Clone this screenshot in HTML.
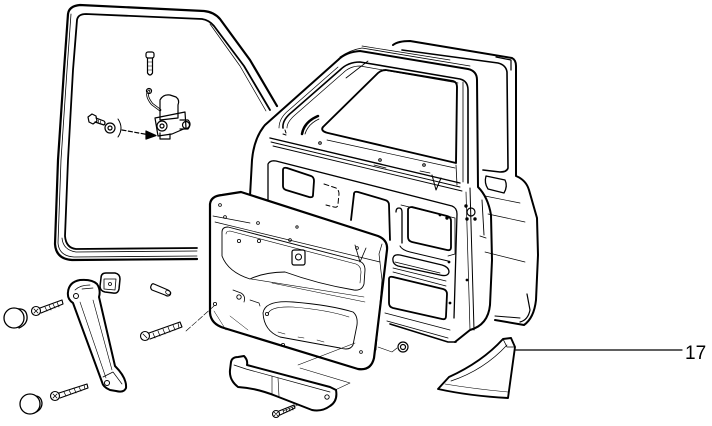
<!DOCTYPE html>
<html><head><meta charset="utf-8"><style>
html,body{margin:0;padding:0;background:#fff;}
svg{display:block;}
text{font-family:"Liberation Sans",sans-serif;}
</style></head><body>
<svg width="712" height="426" viewBox="0 0 712 426" xmlns="http://www.w3.org/2000/svg" fill="none" stroke="#000" stroke-linecap="round" stroke-linejoin="round">

<!-- Window seal -->
<g>
<path d="M197,259 L72,260 Q56,259 55,244 L58,160 L64,70 L68,14 Q69,6 80,5 L204,11 Q214,12 220,19 L250,60 L277,106" stroke-width="2.2"/>
<path d="M197,256 L74,257 Q59,256 58,243 L61,160 L67,70 L71,14" stroke-width="0.8"/>
<path d="M197,248 L76,249 Q66,248 65,236 L68,160 L73,70 L77,20 Q78,14 86,14 L202,19 Q209,20 214,26 L244,66 L270,110" stroke-width="1.8"/>
<path d="M197,251 L76,252 Q63,250 62,238" stroke-width="0.8"/>
<path d="M210,24 L240,66 L266,111" stroke-width="0.7"/>
</g>

<!-- Top-left hardware -->
<g stroke-width="1.2">
<rect x="146" y="52" width="8" height="6" rx="2"/>
<path d="M147.5,58 L147.5,73 Q150,77 152.5,73 L152.5,58"/>
<path d="M148,62 L152,62 M148,66 L152,66 M148,70 L152,70" stroke-width="0.6"/>
<path d="M149,91 Q145,95 152,104 L160,110" stroke-width="2.6"/>
<path d="M149,91 Q145,95 152,104 L160,110" stroke-width="1" stroke="#fff"/>
<circle cx="149" cy="91" r="2.5"/>
<path d="M160,100 L160,120 M160,100 Q163,94 170,95 L176,97 Q180,100 178,105 L178,118 M160,120 L178,118" />
<path d="M155,118 L185,112 L186,128 L172,134 L158,136 Z"/>
<circle cx="162" cy="126" r="5"/>
<circle cx="162" cy="126" r="2"/>
<path d="M180,120 L188,120 Q192,124 188,129 L180,129" />
<circle cx="186" cy="125" r="3.5"/>
<path d="M160,133 L160,139 L170,139 L170,134" />
<!-- hex bolt -->
<path d="M88,117 L92,114 L96,116 L97,121 L93,124 L89,122 Z"/>
<path d="M96,118 L104,121 Q106,123 104,125 L95,122"/>
<path d="M99,119 L98,123 M101,120 L100,124" stroke-width="0.6"/>
<circle cx="110" cy="128" r="5"/>
<circle cx="110" cy="128" r="2"/>
<path d="M118,119 Q124,128 118,137" stroke-width="1"/>
<path d="M122,130 L150,135" stroke-dasharray="4,2.5"/>
<path d="M146,131 L156,135.5 L146,139 Z" fill="#000"/>
</g>

<!-- Rear frame (behind) -->
<g>
<path d="M393,45 Q398,41 410,41 L512,58 Q516,60 516,66 L516,176 Q526,180 529,190 L537,218 L538,255 L536,300 Q534,318 524,325 L495,320" stroke-width="2"/>
<path d="M402,50 L498,63 Q506,65 507,72 L508,168 Q507,172 500,172 L483,170" stroke-width="1.6"/>
<path d="M496,57 L511,60 L511,70" stroke-width="1.2"/>
<path d="M486,176 L505,180 Q508,186 504,193 L488,189 Q484,183 486,176 Z" stroke-width="1.3"/>
<path d="M485,196 L520,203 M488,214 L525,222 M485,252 L525,262" stroke-width="0.7"/>
<path d="M527,294 L530,310 Q528,320 520,322" stroke-width="1.2"/>
<path d="M495,316 L520,318" stroke-width="1"/>
</g>

<!-- Door main -->
<g>
<path d="M250,196 L252,160 Q254,138 265,125 L338,60 Q346,52 360,51 L468,69 Q477,71 477,80 L478,187 Q488,197 491,215 L492,260 L490,305 Q488,325 470,330 L455,342" stroke-width="2"/>
<path d="M340,57 Q350,50 362,48 L470,66" stroke-width="0.8"/>
<path d="M362,46 L450,60" stroke-width="0.7"/>
<path d="M283,128 Q282,120 292,112 L340,70 Q348,62 360,62 L460,79 Q468,81 468,90 L468,183" stroke-width="1.6"/>
<path d="M287,128 Q287,122 295,115 L343,73 Q350,66 360,66 L458,83" stroke-width="0.7"/>
<path d="M279,128 Q279,118 289,110 L338,67" stroke-width="0.7"/>
<path d="M323,127 L378,73 Q381,70 386,70 L453,81 Q457,82 457,87 L456,163 L328,133 Q320,131 323,127 Z" stroke-width="1.9"/>
<path d="M302,134 Q304,122 318,116" stroke-width="2.5"/>
<path d="M305,134 Q308,124 319,119" stroke-width="0.8"/>
<path d="M346,78 L368,61" stroke-width="0.8"/>
<path d="M327,140 L455,168" stroke-width="0.7"/>
<path d="M270,138 L460,183" stroke-width="1.4"/>
<path d="M271,142 L460,187" stroke-width="0.9"/>
<path d="M273,146 L462,191" stroke-width="0.9"/>
<path d="M456,165 L457,185" stroke-width="0.8"/>
<path d="M463,82 L463,182" stroke-width="0.8"/>
<path d="M470,188 L474,330" stroke-width="1"/>
<path d="M466,192 L470,330" stroke-width="0.7"/>
<path d="M482,200 L484,235 M480,236 L486,238" stroke-width="0.9"/>
<path d="M268,200 L268,164 Q270,160 276,161 L452,206 Q457,208 457,214 L454,318" stroke-width="1.3"/>
<path d="M283,134 L286,135 M285,130 L286,133" stroke-width="1"/>
<circle cx="320" cy="143" r="1.3"/>
<circle cx="380" cy="160" r="1.3"/>
<circle cx="424" cy="165" r="1.3"/>
<path d="M314,149 L326,151 M374,165 L386,168 M420,171 L430,173" stroke-width="0.7"/>
<path d="M432,175 L436,190 L441,178" stroke-width="1"/>
<path d="M283,170 Q283,167 287,168 L311,176 Q314,177 314,181 L313,195 Q313,198 309,197 L286,190 Q283,189 283,186 Z" stroke-width="1.8"/>
<path d="M324,184 L336,188 Q339,190 339,194 L338,204 Q338,208 334,207 L326,205" stroke-width="1" stroke-dasharray="5,3"/>
<path d="M354,194 Q354,191 358,192 L385,200 Q389,201 389,205 L390,240" stroke-width="1.8"/>
<path d="M354,194 L351,220" stroke-width="1.8"/>
<path d="M408,210 Q408,207 412,207 L447,216 Q451,217 451,221 L451,247 Q451,251 447,250 L412,242 Q408,241 408,237 Z" stroke-width="1.8"/>
<path d="M401,205 L455,218 L455,254 L448,256" stroke-width="0.8"/>
<path d="M396,212 Q396,208 399,208 Q402,208 402,212 L402,243" stroke-width="1.3"/>
<path d="M400,246 Q402,250 410,252 L448,261" stroke-width="1"/>
<path d="M393,258 Q394,254 400,255 L442,265 Q449,267 449,272 Q448,277 440,275 L398,266 Q392,264 393,258 Z" stroke-width="1.3"/>
<path d="M395,262 L440,273 M393,268 L446,281 M393,272 L446,286" stroke-width="0.8"/>
<path d="M389,279 Q389,276 393,277 L443,289 Q447,290 447,294 L446,316 Q446,320 442,319 L393,308 Q389,307 389,303 Z" stroke-width="1.8"/>
<path d="M385,313 L450,330 M387,321 L448,338" stroke-width="0.9"/>
<path d="M390,324 L448,342 L456,342" stroke-width="1.6"/>
<circle cx="471" cy="212" r="4" stroke-width="1.2"/>
<circle cx="466" cy="206" r="1.2" fill="#000"/>
<circle cx="467" cy="219" r="1.2" fill="#000"/>
<circle cx="475" cy="219" r="1.2" fill="#000"/>
<circle cx="447" cy="218" r="1.2" fill="#000"/>
<circle cx="440" cy="215" r="0.9" fill="#000"/>
<circle cx="467" cy="280" r="0.9" fill="#000"/>
<circle cx="450" cy="303" r="0.9" fill="#000"/>
<circle cx="449" cy="262" r="0.9" fill="#000"/>
</g>

<!-- Trim panel -->
<g>
<path d="M210,204 Q211,196 222,195 L241,192 L378,236 Q388,240 387,250 L374,358 Q371,371 358,369 L224,328 Q211,324 210,313 Z" fill="#fff" stroke-width="2.2"/>
<path d="M213,216 L250,223 M215,222 L380,262" stroke-width="0.7"/>
<path d="M222,232 Q222,227 228,227 L359,261 Q365,263 365,270 L364,284 Q362,291 354,290 Q318,284 285,272 Q265,272 250,279 Q228,272 222,256 Z" stroke-width="0.9"/>
<path d="M226,234 Q226,231 230,231 L356,264 Q361,266 361,272 L360,283" stroke-width="0.6"/>
<path d="M251,279 L364,297 M272,283 L365,302" stroke-width="0.6"/>
<path d="M233,290 L241,293 Q246,296 244,302" stroke-width="0.8"/>
<circle cx="239" cy="297" r="2.2" stroke-width="0.9"/>
<path d="M250,300 L259,303 L260,306" stroke-width="0.7"/>
<rect x="292" y="250" width="13" height="15" rx="2" stroke-width="1.2"/>
<circle cx="298.5" cy="257" r="3" stroke-width="1"/>
<path d="M355,245 L360,262 L366,248" stroke-width="0.8"/>
<path d="M382,244 L379,254 L382,280 L376,350" stroke-width="0.7"/>
<path d="M263,313 Q265,300 293,302 Q330,305 353,312 Q358,316 357,325 L353,345 Q350,351 340,348 L280,337 Q264,331 263,313 Z" stroke-width="0.9"/>
<path d="M268,314 Q270,306 293,307 Q328,310 349,317" stroke-width="0.6"/>
<path d="M278,332 L285,334 M298,337 L304,338 M317,340 L324,342" stroke-width="0.6"/>
<path d="M214,311 L226,330 M230,316 L248,330" stroke-width="0.5"/>
<circle cx="220" cy="205" r="1.4" stroke-width="0.8"/>
<circle cx="258" cy="223" r="1.4" stroke-width="0.8"/>
<circle cx="290" cy="240" r="1.4" stroke-width="0.8"/>
<circle cx="239" cy="241" r="1.6" stroke-width="0.8"/>
<circle cx="259" cy="241" r="1.6" stroke-width="0.8"/>
<circle cx="225" cy="217" r="1.4" stroke-width="0.8"/>
<circle cx="297" cy="227" r="1.2" stroke-width="0.8"/>
<circle cx="357" cy="248" r="1.4" stroke-width="0.8"/>
<circle cx="215" cy="304" r="1.6" stroke-width="0.8"/>
<circle cx="267" cy="314" r="1.6" stroke-width="0.8"/>
<circle cx="283" cy="345" r="1.6" stroke-width="0.8"/>
<circle cx="361" cy="352" r="1.4" stroke-width="0.8"/>
<path d="M186,331 L214,306" stroke-width="0.6" stroke-dasharray="6,2"/>
</g>

<!-- Nut -->
<g stroke-width="1.2">
<path d="M378,347 L392,352 L397,348" stroke-width="0.6"/>
<circle cx="403" cy="347" r="5"/>
<circle cx="403" cy="347" r="2.5"/>
</g>

<path d="M298,365 L355,343 M300,368 L350,383 L333,391" stroke-width="0.6"/>
<path d="M283,411 L328,393" stroke-width="0.6"/>

<!-- Arm cup -->
<g>
<path d="M231,362 Q232,357 238,357 L244,356 Q248,360 247,365 L330,387 L336,390 Q338,401 330,406 Q322,412 312,410 L276,396 Q256,388 238,387 Q229,380 230,370 Z" fill="#fff" stroke-width="2"/>
<path d="M234,365 L246,369 L330,392" stroke-width="0.7"/>
<path d="M272,376 L272,394 M278,378 L279,396" stroke-width="0.6"/>
<circle cx="327" cy="397" r="2.2" stroke-width="0.9"/>
</g>

<g stroke-width="1.1">
<circle cx="276" cy="414" r="3.5"/>
<path d="M274,412 L278,416 M278,412 L274,416" stroke-width="0.7"/>
<path d="M279,411 L294,405 L295,408 L280,415"/>
<path d="M283,410 L284,413 M286,409 L287,412 M289,408 L290,411 M292,407 L293,410" stroke-width="0.7"/>
</g>

<!-- Grab handle -->
<g>
<path d="M68,292 Q69,282 80,280 Q92,279 97,284 Q101,290 99,297 L115,366 Q127,378 126,388 Q124,393 116,391 L110,390 Q103,387 102,382 L73,303 Q67,299 68,292 Z" stroke-width="2"/>
<path d="M75,290 Q80,285 90,285 M82,289 L93,288" stroke-width="0.7"/>
<path d="M80,302 L106,378 M93,300 L112,370" stroke-width="0.6"/>
<path d="M103,377 L113,372 L122,384" stroke-width="0.7"/>
<circle cx="76" cy="296" r="2.5" stroke-width="1"/>
<circle cx="107" cy="383" r="2.5" stroke-width="1"/>
</g>

<g stroke-width="1.5">
<path d="M101,278 Q101,273 106,273 L115,273 Q120,274 120,279 L119,289 Q118,294 113,293 L105,292 Q100,291 100,286 Z"/>
<path d="M104,279 L116,279 L115,290 L104,289 Z" stroke-width="0.8"/>
<circle cx="110" cy="284" r="1.5" stroke-width="0.8"/>
</g>

<g stroke-width="1.2">
<path d="M154,284 L168,290 Q172,292 170,295 Q168,297 165,295 L152,290 Q150,288 151,286 Q152,283 154,284 Z"/>
<ellipse cx="168" cy="292.5" rx="1.8" ry="2.5" transform="rotate(-60 168 292.5)" stroke-width="0.8"/>
</g>

<g stroke-width="1.3">
<path d="M17,309 Q26,308 27,316 Q28,324 19,328"/>
<circle cx="14" cy="318" r="10" fill="#fff"/>
<path d="M33,396 Q41,395 42,403 Q42,410 34,413"/>
<circle cx="30" cy="404" r="10" fill="#fff"/>
</g>

<g stroke-width="1.1">
<circle cx="36" cy="311" r="4.5"/>
<path d="M34,309 L38,313 M38,309 L34,313" stroke-width="0.8"/>
<path d="M40,308 L62,300 L63,304 L41,313"/>
<path d="M45,307 L47,311 M49,305 L51,310 M53,304 L55,308 M57,302 L59,307" stroke-width="0.7"/>
<circle cx="55" cy="396" r="4.5"/>
<path d="M53,394 L57,398 M57,394 L53,398" stroke-width="0.8"/>
<path d="M59,393 L87,384 L88,388 L60,398"/>
<path d="M64,392 L66,396 M69,390 L71,394 M74,388 L76,393 M79,387 L81,391 M84,385 L85,389" stroke-width="0.7"/>
<circle cx="145" cy="336" r="4.5"/>
<path d="M143,334 L147,338" stroke-width="0.8"/>
<path d="M149,333 L180,322 L182,327 L150,339"/>
<path d="M153,333 L155,338 M158,331 L160,336 M163,329 L165,334 M168,327 L170,332 M173,325 L175,330 M178,323 L179,328" stroke-width="0.7"/>
</g>

<!-- Part 17 -->
<g>
<path d="M438,389 L449,377 Q482,362 503,339 L511,338 L515,347 L508,398 Q470,396 438,389 Z" fill="#fff" stroke-width="1.9"/>
<path d="M451,381 Q484,370 507,345" stroke-width="0.7"/>
<path d="M503,339 L507,347 L515,347" stroke-width="0.8"/>
<path d="M445,384 Q475,389 508,392" stroke-width="0.6"/>
</g>
<path d="M516,350 L682,350" stroke-width="1.2"/>
<text x="685" y="359" font-size="19" fill="#000" stroke="none">17</text>
</svg>
</body></html>
